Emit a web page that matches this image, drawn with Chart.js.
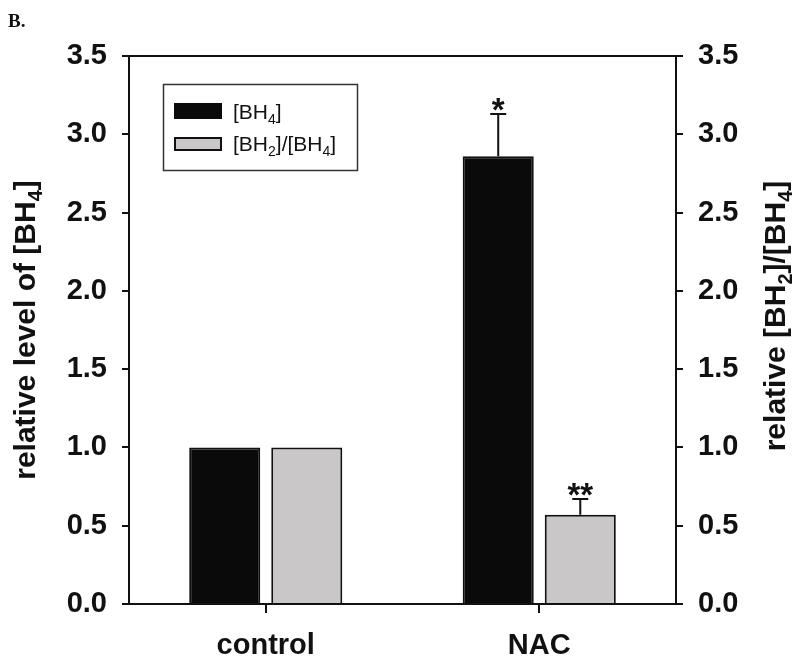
<!DOCTYPE html>
<html>
<head>
<meta charset="utf-8">
<script src="https://cdn.jsdelivr.net/npm/chart.js@4.4.1/dist/chart.umd.min.js"></script>
<style>
  html, body { margin: 0; padding: 0; background: #fff; }
  #wrap { width: 800px; height: 662px; position: relative; }
</style>
</head>
<body>
<div id="wrap"><canvas id="c"></canvas></div>
<script>
// data
var categories = ["control", "NAC"];
var bh4 = [1.0, 2.86];
var bh4Err = [0, 0.27];
var ratio = [1.0, 0.57];
var ratioErr = [0, 0.10];
var bh4Marks = ["", "*"];
var ratioMarks = ["", "**"];
var yMin = 0, yMax = 3.5, yStep = 0.5;

var FONT = '"Liberation Sans", Arial, Helvetica, sans-serif';
var INK = "#111";

// draws text with subscripts, parts = [[text, isSub], ...]
function richText(ctx, parts, x, y, size, weight, align) {
  var subSize = Math.round(size * 0.66);
  var w = 0;
  parts.forEach(function (p) {
    ctx.font = weight + " " + (p[1] ? subSize : size) + "px " + FONT;
    w += ctx.measureText(p[0]).width;
  });
  var cx = align === "center" ? x - w / 2 : x;
  ctx.textAlign = "left";
  ctx.textBaseline = "alphabetic";
  parts.forEach(function (p) {
    ctx.font = weight + " " + (p[1] ? subSize : size) + "px " + FONT;
    ctx.fillText(p[0], cx, p[1] ? y + size * 0.22 : y);
    cx += ctx.measureText(p[0]).width;
  });
}

var decor = {
  id: "decor",
  afterDatasetsDraw: function (chart) {
    var ctx = chart.ctx, a = chart.chartArea;
    ctx.save();
    ctx.fillStyle = INK;
    ctx.strokeStyle = INK;

    // error bars + significance marks
    [[0, bh4, bh4Err, bh4Marks], [1, ratio, ratioErr, ratioMarks]].forEach(function (d) {
      var meta = chart.getDatasetMeta(d[0]);
      var ys = chart.scales[meta.yAxisID];
      meta.data.forEach(function (bar, i) {
        var top = bar.y;
        if (d[2][i] > 0) {
          top = ys.getPixelForValue(d[1][i] + d[2][i]);
          ctx.lineWidth = 2;
          ctx.beginPath();
          ctx.moveTo(bar.x, bar.y);
          ctx.lineTo(bar.x, top);
          ctx.moveTo(bar.x - 8, top);
          ctx.lineTo(bar.x + 8, top);
          ctx.stroke();
        }
        if (d[3][i]) {
          ctx.font = "bold 33px " + FONT;
          ctx.textAlign = "center";
          ctx.textBaseline = "alphabetic";
          var m = ctx.measureText(d[3][i]);
          ctx.fillText(d[3][i], bar.x, top - 3 - m.actualBoundingBoxDescent);
        }
      });
    });

    // frame
    ctx.lineWidth = 2;
    ctx.strokeRect(a.left, a.top, a.right - a.left, a.bottom - a.top);

    // legend
    ctx.lineWidth = 1.5;
    ctx.strokeStyle = "#333";
    ctx.strokeRect(163.5, 84.5, 194, 86);
    ctx.fillStyle = "#0a0a0a";
    ctx.fillRect(174, 103, 48, 16);
    ctx.fillStyle = "#c9c7c7";
    ctx.fillRect(174, 137, 48, 14);
    ctx.strokeStyle = INK;
    ctx.lineWidth = 2;
    ctx.strokeRect(175, 138, 46, 12);
    ctx.fillStyle = INK;
    richText(ctx, [["[BH", 0], ["4", 1], ["]", 0]], 233, 119, 21, "normal", "left");
    richText(ctx, [["[BH", 0], ["2", 1], ["]/[BH", 0], ["4", 1], ["]", 0]], 233, 151, 21, "normal", "left");

    // axis titles
    var cy = (a.top + a.bottom) / 2;
    ctx.save();
    ctx.translate(35, cy);
    ctx.rotate(-Math.PI / 2);
    richText(ctx, [["relative level of [BH", 0], ["4", 1], ["]", 0]], 0, 0, 30, "bold", "center");
    ctx.restore();
    ctx.save();
    ctx.translate(785, cy - 14);
    ctx.rotate(-Math.PI / 2);
    richText(ctx, [["relative [BH", 0], ["2", 1], ["]/[BH", 0], ["4", 1], ["]", 0]], 0, 0, 30, "bold", "center");
    ctx.restore();

    // panel letter
    ctx.font = "bold 19px \"Liberation Serif\", \"Times New Roman\", serif";
    ctx.textAlign = "left";
    ctx.fillText("B.", 8, 27);
    ctx.restore();
  }
};

var tickFont = { family: FONT, size: 29, weight: "bold" };
var yGrid = { display: true, drawOnChartArea: false, drawTicks: true, tickLength: 7, color: INK, lineWidth: 2 };

new Chart(document.getElementById("c"), {
  type: "bar",
  data: {
    labels: categories,
    datasets: [
      {
        label: "[BH4]",
        data: bh4,
        yAxisID: "y",
        backgroundColor: "#0a0a0a",
        borderColor: INK,
        borderWidth: 2,
        categoryPercentage: 0.6,
        barPercentage: 0.866,
      },
      {
        label: "[BH2]/[BH4]",
        data: ratio,
        yAxisID: "y2",
        backgroundColor: "#c9c7c7",
        borderColor: INK,
        borderWidth: 2,
        categoryPercentage: 0.6,
        barPercentage: 0.866,
      },
    ],
  },
  options: {
    responsive: true,
    maintainAspectRatio: false,
    animation: false,
    layout: { padding: { top: 56, left: 0, right: 0, bottom: 0 } },
    plugins: { legend: { display: false }, tooltip: { enabled: false } },
    scales: {
      x: {
        offset: true,
        grid: { display: true, offset: false, drawOnChartArea: false, drawTicks: true, tickLength: 9, color: INK, lineWidth: 2 },
        border: { display: false },
        ticks: { font: tickFont, color: INK, padding: 16 },
        afterFit: function (s) { s.height = 58; },
      },
      y: {
        position: "left",
        min: yMin,
        max: yMax,
        grid: yGrid,
        border: { display: false },
        ticks: {
          stepSize: yStep,
          font: tickFont,
          color: INK,
          padding: 15,
          callback: function (v) { return v.toFixed(1); },
        },
        afterFit: function (s) { s.width = 129; },
      },
      y2: {
        position: "right",
        min: yMin,
        max: yMax,
        grid: yGrid,
        border: { display: false },
        ticks: {
          stepSize: yStep,
          font: tickFont,
          color: INK,
          padding: 15,
          callback: function (v) { return v.toFixed(1); },
        },
        afterFit: function (s) { s.width = 124; },
      },
    },
  },
  plugins: [decor],
});
</script>
</body>
</html>
